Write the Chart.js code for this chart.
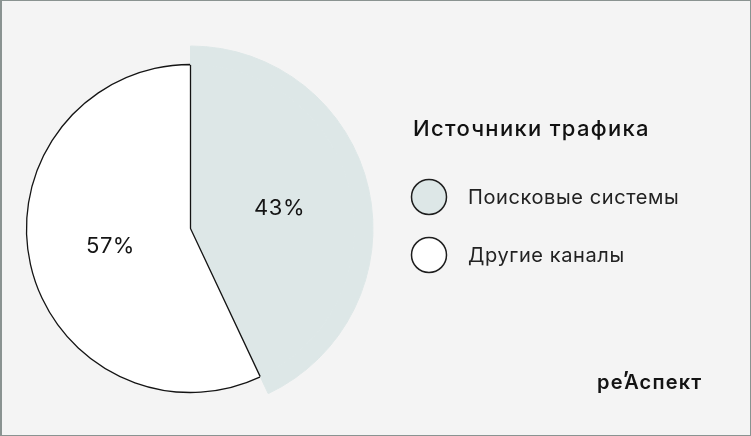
<!DOCTYPE html>
<html lang="ru">
<head>
<meta charset="utf-8">
<script src="https://cdn.jsdelivr.net/npm/chart.js@4.4.1/dist/chart.umd.min.js"></script>
<style>
  html, body { margin: 0; padding: 0; background: #f4f4f4; }
  #wrap { position: relative; width: 751px; height: 436px; overflow: hidden; }
  #frame { position: absolute; inset: 0; border: 1px solid #8a9391; border-left-width: 2px; pointer-events: none; }
  #logo { position: absolute; left: 597px; top: 370px; font: 600 20px Inter, sans-serif; color: #141414; letter-spacing: 1.2px; white-space: nowrap; }
  #logo .tick { display: inline-block; margin-right: -7px; transform: translate(-1px, -3px); font-weight: 700; }
</style>
</head>
<body>
<div id="wrap">
  <canvas id="chart" width="751" height="436"></canvas>
  <div id="logo">ре<span class="tick">ʼ</span>Аспект</div>
  <div id="frame"></div>
</div>
<script>
// data
const title = 'Источники трафика';
const categories = ['Поисковые системы', 'Другие каналы'];
const shares = [43, 57];

const BLUE = '#dde7e7';

// percent labels on each slice
const sliceLabels = {
  id: 'sliceLabels',
  afterDatasetsDraw(chart) {
    const ctx = chart.ctx;
    const metas = chart.getSortedVisibleDatasetMetas();
    const base = chart.getDatasetMeta(1).data;
    ctx.save();
    ctx.font = '400 22px Inter, sans-serif';
    ctx.letterSpacing = '0.5px';
    ctx.fillStyle = '#141414';
    ctx.textAlign = 'center';
    ctx.textBaseline = 'middle';
    base.forEach((arc, i) => {
      // largest visible radius of this slice
      let r = 0;
      metas.forEach((m) => {
        const bg = chart.data.datasets[m.index].backgroundColor[i];
        if (bg !== 'rgba(0,0,0,0)') r = Math.max(r, m.data[i].outerRadius);
      });
      const { x, y, startAngle, endAngle } = arc.getProps(['x', 'y', 'startAngle', 'endAngle'], true);
      const mid = (startAngle + endAngle) / 2;
      ctx.fillText(shares[i] + '%', x + Math.cos(mid) * r * 0.5, y + Math.sin(mid) * r * 0.5);
    });
    ctx.restore();
  }
};

// legend block on the right
const sideLegend = {
  id: 'sideLegend',
  afterDraw(chart) {
    const ctx = chart.ctx;
    const colors = chart.data.datasets[1].backgroundColor;
    ctx.save();
    ctx.textBaseline = 'middle';
    ctx.textAlign = 'left';
    ctx.fillStyle = '#111';
    ctx.font = '500 22px Inter, sans-serif';
    ctx.letterSpacing = '1.3px';
    ctx.fillText(title, 413, 129);
    chart.data.labels.forEach((label, i) => {
      const cy = 197 + i * 58;
      ctx.beginPath();
      ctx.arc(429, cy, 17.5, 0, Math.PI * 2);
      ctx.fillStyle = colors[i];
      ctx.fill();
      ctx.lineWidth = 1.5;
      ctx.strokeStyle = '#1e1e1e';
      ctx.stroke();
      ctx.fillStyle = '#222';
      ctx.font = '400 20px Inter, sans-serif';
      ctx.letterSpacing = '0.6px';
      ctx.fillText(label, 468, cy + 1);
    });
    ctx.restore();
  }
};

new Chart(document.getElementById('chart'), {
  type: 'pie',
  data: {
    labels: categories,
    datasets: [
      {
        // outer band: only the search slice sticks out
        data: shares,
        backgroundColor: [BLUE, 'rgba(0,0,0,0)'],
        borderColor: [BLUE, 'rgba(0,0,0,0)'],
        borderWidth: [1, 0],
        weight: 18.5,
      },
      {
        data: shares,
        backgroundColor: [BLUE, '#ffffff'],
        borderColor: [BLUE, '#141414'],
        borderWidth: [1, 1.3],
        weight: 164,
      },
    ],
  },
  options: {
    responsive: false,
    animation: false,
    events: [],
    radius: 182.5,
    layout: { padding: { left: 0, right: 370, top: 46, bottom: 25 } },
    plugins: {
      legend: { display: false },
      tooltip: { enabled: false },
    },
  },
  plugins: [sliceLabels, sideLegend],
});
</script>
</body>
</html>
